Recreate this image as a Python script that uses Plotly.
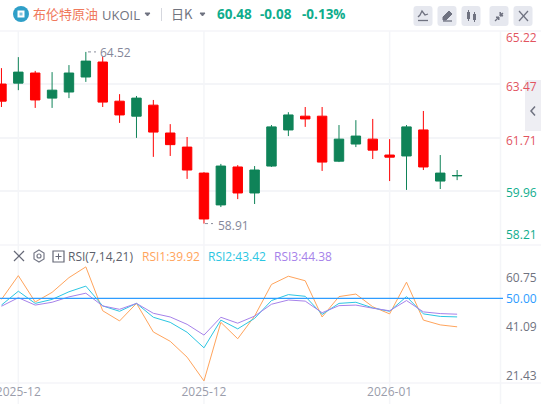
import plotly.graph_objects as go

W, H = 541, 404

sessions = ["2025-11-28", "2025-12-01", "2025-12-02", "2025-12-03", "2025-12-04", "2025-12-05", "2025-12-08",
            "2025-12-09", "2025-12-10", "2025-12-11", "2025-12-12", "2025-12-15", "2025-12-16", "2025-12-17",
            "2025-12-18", "2025-12-19", "2025-12-22", "2025-12-23", "2025-12-24", "2025-12-26", "2025-12-29",
            "2025-12-30", "2025-12-31", "2026-01-02", "2026-01-05", "2026-01-06", "2026-01-07", "2026-01-08"]
opens = [63.47, 63.50, 63.83, 63.01, 63.21, 63.70, 64.19, 62.91, 62.42, 62.78, 61.87, 61.41, 60.56, 59.52,
         60.76, 59.91, 60.79, 61.97, 62.42, 62.42, 60.95, 61.51, 61.67, 61.15, 61.12, 61.97, 60.30, 60.47]
highs = [63.99, 64.35, 63.90, 63.86, 64.09, 64.52, 64.38, 63.14, 63.08, 62.95, 62.16, 61.74, 60.59, 60.86,
         60.82, 60.79, 62.13, 62.55, 62.72, 62.72, 62.13, 62.29, 62.33, 61.67, 62.13, 62.59, 61.15, 60.66]
lows = [62.72, 63.27, 62.69, 62.69, 63.01, 63.54, 62.72, 62.20, 61.71, 61.09, 61.12, 60.37, 58.91, 59.45,
        59.71, 59.55, 60.76, 61.77, 62.07, 60.63, 60.92, 61.41, 61.02, 60.30, 60.01, 60.66, 60.04, 60.33]
closes = [62.91, 63.86, 62.95, 63.27, 63.83, 64.22, 62.88, 62.46, 63.01, 61.90, 61.49, 60.66, 59.06, 60.79,
          59.91, 60.66, 62.07, 62.46, 62.33, 60.92, 61.67, 61.77, 61.31, 61.08, 62.07, 60.76, 60.56, 60.48]
rsi1 = [49.6, 58.0, 48.7, 52.1, 57.3, 61.1, 45.6, 42.0, 48.2, 38.1, 34.8, 29.2, 20.8, 41.5,
        35.7, 43.7, 54.9, 57.8, 56.2, 43.4, 50.6, 51.5, 47.0, 44.5, 55.7, 42.3, 40.6, 39.92]
rsi2 = [47.6, 52.5, 48.2, 49.6, 52.3, 54.3, 47.3, 45.4, 48.2, 43.3, 41.5, 38.0, 32.5, 42.3,
        39.2, 42.9, 49.2, 51.3, 50.7, 44.3, 48.2, 48.6, 46.6, 45.4, 50.6, 44.5, 43.6, 43.42]
rsi3 = [47.2, 50.2, 47.6, 48.6, 50.5, 51.8, 47.3, 46.1, 48.2, 44.7, 43.4, 40.8, 37.0, 43.3,
        41.2, 43.7, 47.9, 49.4, 49.0, 44.9, 47.4, 47.6, 46.5, 45.6, 49.2, 45.2, 44.6, 44.38]
price_ticks = [65.22, 63.47, 61.71, 59.96, 58.21]
rsi_ticks = [60.75, 50.00, 41.09, 21.43]
month_tick_sessions = ["2025-12-01", "2025-12-16", "2026-01-02"]
month_tick_labels = ["2025-12", "2025-12", "2026-01"]

FONT = "Open Sans, Noto Sans CJK SC, sans-serif"
CJK = "Noto Sans CJK SC, sans-serif"
GREEN, RED = "#0f8358", "#ff0000"
GRID = "#f4f5f8"
ORANGE, CYAN, PURPLE, BLUE = "#ffa45c", "#2cc6e2", "#a682ea", "#2e9cff"
UP_TXT, DOWN_TXT = "#10ad8d", "#e2545f"
GREY = "#9a9dab"


def px(x):
    return x / W


def py(y):
    return 1 - y / H


fig = go.Figure()
fig.add_trace(go.Candlestick(
    x=sessions, open=opens, high=highs, low=lows, close=closes, xaxis="x", yaxis="y",
    increasing=dict(line=dict(color=GREEN, width=1), fillcolor=GREEN),
    decreasing=dict(line=dict(color=RED, width=1), fillcolor=RED),
    whiskerwidth=0, showlegend=False, hoverinfo="skip"))
for vals, col in ((rsi1, ORANGE), (rsi2, CYAN), (rsi3, PURPLE)):
    fig.add_trace(go.Scatter(x=sessions, y=vals, mode="lines", xaxis="x", yaxis="y2",
                             line=dict(color=col, width=1), showlegend=False, hoverinfo="skip"))

shapes = []


def line(x0, y0, x1, y1, color="#6f7280", width=1.5):
    shapes.append(dict(type="line", xref="paper", yref="paper", x0=px(x0), y0=py(y0), x1=px(x1), y1=py(y1),
                       line=dict(color=color, width=width)))


def rect(x0, y0, x1, y1, fill, color=None, width=0):
    shapes.append(dict(type="rect", xref="paper", yref="paper", x0=px(x0), y0=py(y0), x1=px(x1), y1=py(y1),
                       fillcolor=fill, line=dict(color=color or fill, width=width)))


def path(points, fill=None, color="#6f7280", width=1.5, close=True):
    d = "M " + " L ".join(f"{px(a):.5f},{py(b):.5f}" for a, b in points) + (" Z" if close else "")
    shapes.append(dict(type="path", xref="paper", yref="paper", path=d,
                       fillcolor=fill or "rgba(0,0,0,0)", line=dict(color=color, width=width)))


# pane frame
line(0, 31, 541, 31, GRID, 1.5)
line(0, 245, 541, 245, GRID, 1.5)
line(0, 383, 541, 383, GRID, 1.5)
line(500.5, 31, 500.5, 404, GRID, 1.5)

# header icon
shapes.append(dict(type="circle", xref="paper", yref="paper", x0=px(13), y0=py(6), x1=px(29), y1=py(22),
                   fillcolor="#2f9fc8", line=dict(width=0)))
rect(17.5, 10.5, 24.5, 17.5, "#ffffff")
rect(19.5, 12.5, 22.5, 15.5, "#7fc4de")
path([(145, 13), (150, 13), (147.5, 16)], "#6f7280", "#6f7280", 1)
path([(200, 13), (205, 13), (202.5, 16)], "#6f7280", "#6f7280", 1)
line(161.5, 8, 161.5, 21, "#d5d7de", 1)

# toolbar buttons
for left in (413.5, 437.5, 461.5, 489.5, 513.5):
    r = 3
    a, b, t, u = left, left + 19, 6, 26
    d = (f"M {px(a + r)},{py(t)} L {px(b - r)},{py(t)} Q {px(b)},{py(t)} {px(b)},{py(t + r)} "
         f"L {px(b)},{py(u - r)} Q {px(b)},{py(u)} {px(b - r)},{py(u)} L {px(a + r)},{py(u)} "
         f"Q {px(a)},{py(u)} {px(a)},{py(u - r)} L {px(a)},{py(t + r)} Q {px(a)},{py(t)} {px(a + r)},{py(t)} Z")
    shapes.append(dict(type="path", xref="paper", yref="paper", path=d, fillcolor="#e6e8ef", line=dict(width=0)))
path([(418, 17), (420, 15), (422, 11), (425, 15), (428, 14)], None, "#6f7280", 1.3, False)
line(418, 20.5, 428, 20.5, "#6f7280", 1.3)
path([(443, 17), (449, 11), (452, 14), (446, 20), (443, 20)], "#6f7280", "#6f7280", 1)
line(443, 21, 452, 21, "#6f7280", 1.3)
rect(467, 12, 470, 19, "#6f7280")
line(468.5, 10, 468.5, 21, "#6f7280", 1)
rect(473, 14, 476, 20, "#6f7280")
line(474.5, 12, 474.5, 22, "#6f7280", 1)
line(495, 21, 498, 18, "#6f7280", 1.3)
line(500, 16, 503, 13, "#6f7280", 1.3)
path([(496, 17), (499, 17), (499, 20)], "#6f7280", "#6f7280", 1)
path([(503, 16), (500, 16), (500, 12)], "#6f7280", "#6f7280", 1)
line(519, 11, 528, 21, "#6f7280", 1.2)
line(528, 11, 519, 21, "#6f7280", 1.2)

# side handle
rect(525, 80, 541, 131, "#eeeef3")
path([(535, 106.5), (531, 111), (535, 115.5)], None, "#6f7280", 1.5, False)

# RSI legend icons
line(14, 251, 24, 261, "#666977", 1.2)
line(24, 251, 14, 261, "#666977", 1.2)
path([(39, 250), (44, 253), (44, 259), (39, 262), (34, 259), (34, 253)], None, "#777a88", 1.2)
shapes.append(dict(type="circle", xref="paper", yref="paper", x0=px(37), y0=py(254), x1=px(41), y1=py(258),
                   line=dict(color="#777a88", width=1.2)))
rect(53, 251, 64, 262, "rgba(0,0,0,0)", "#666977", 1.2)
line(55.5, 256.5, 61.5, 256.5, "#666977", 1)
line(58.5, 253.5, 58.5, 259.5, "#666977", 1)

# high/low leaders
shapes.append(dict(type="line", xref="paper", yref="y", x0=px(88), x1=px(96), y0=highs[5], y1=highs[5],
                   line=dict(color="#8a8d9b", width=1, dash="dot")))
shapes.append(dict(type="line", xref="paper", yref="y", x0=px(205), x1=px(213), y0=lows[12], y1=lows[12],
                   line=dict(color="#8a8d9b", width=1, dash="dot")))
# RSI reference line
shapes.append(dict(type="line", xref="paper", yref="y2", x0=0, x1=px(503), y0=50, y1=50,
                   line=dict(color=BLUE, width=1.2)))

ann = []


def text(x, y, s, color, size=12, anchor="left", family=FONT, bold=False):
    ann.append(dict(xref="paper", yref="paper", x=px(x), y=py(y), text=f"<b>{s}</b>" if bold else s, showarrow=False,
                    xanchor=anchor, yanchor="middle", font=dict(color=color, size=size, family=family),
                    borderpad=0, borderwidth=0))


text(33, 13.5, "布伦特原油", "#f0795c", 13, family=CJK)
text(102, 15, "UKOIL", "#71747f", 13)
text(171, 13.5, "日K", "#71747f", 13, family=CJK)
text(217, 13.5, "60.48", UP_TXT, 13.5, bold=True)
text(260, 13.5, "-0.08", UP_TXT, 13.5, bold=True)
text(302, 13.5, "-0.13%", UP_TXT, 13.5, bold=True)
text(68, 256.5, "RSI(7,14,21)", "#5c5f6b", 12)
text(142, 256.5, f"RSI1:{rsi1[-1]:.2f}", ORANGE, 12)
text(208, 256.5, f"RSI2:{rsi2[-1]:.2f}", CYAN, 12)
text(274, 256.5, f"RSI3:{rsi3[-1]:.2f}", PURPLE, 12)

# price labels (the feed's labels sit a few pixels off their gridlines)
price_shift = [-7.5, -2, -2.5, -1.5, 10]
for v, sh in zip(price_ticks, price_shift):
    ann.append(dict(xref="paper", yref="y", x=px(504), y=v, yshift=sh, text=f"{v:.2f}", showarrow=False,
                    xanchor="left", yanchor="middle",
                    font=dict(color=DOWN_TXT if v > 60.48 else UP_TXT, size=12, family=FONT)))
rsi_shift = [-10, 0, -3, 4]
for v, sh in zip(rsi_ticks, rsi_shift):
    ann.append(dict(xref="paper", yref="y2", x=px(504), y=v, yshift=sh, text=f"{v:.2f}", showarrow=False,
                    xanchor="left", yanchor="middle",
                    font=dict(color=BLUE if v == 50 else "#70737f", size=12, family=FONT)))
ann.append(dict(xref="paper", yref="y", x=px(98), y=highs[5], yshift=-1, text=f"{highs[5]:.2f}", showarrow=False,
                xanchor="left", yanchor="middle", font=dict(color="#84879a", size=12, family=FONT)))
ann.append(dict(xref="paper", yref="y", x=px(216), y=lows[12], yshift=-2, text=f"{lows[12]:.2f}", showarrow=False,
                xanchor="left", yanchor="middle", font=dict(color="#84879a", size=12, family=FONT)))

fig.update_layout(
    width=W, height=H, margin=dict(l=0, r=0, t=0, b=0, pad=0), autosize=False,
    paper_bgcolor="#ffffff", plot_bgcolor="#ffffff", showlegend=False, boxgap=0.2, boxmode="overlay",
    shapes=shapes, annotations=ann,
    xaxis=dict(domain=[0, px(500.5)], type="category", range=[-0.086, 29.57], anchor="y2",
               tickmode="array", tickvals=month_tick_sessions, ticktext=month_tick_labels,
               ticks="", tickfont=dict(color=GREY, size=12, family=FONT), showline=False,
               showgrid=False, zeroline=False, rangeslider=dict(visible=False), automargin=False),
    yaxis=dict(domain=[py(245), py(30.5)], range=[58.21, 65.22], side="right", tickmode="array",
               tickvals=price_ticks[1:4], showticklabels=False, ticks="", showgrid=True, gridcolor=GRID,
               gridwidth=1.5, zeroline=False, showline=False, anchor="x", automargin=False),
    yaxis2=dict(domain=[py(383), py(245)], range=[20.07, 68.83], side="right", showticklabels=False, ticks="",
                showgrid=False, zeroline=False, showline=False, anchor="x", automargin=False),
)
# month gridlines through both panes, positioned on the session axis
for s in month_tick_sessions:
    fig.add_shape(type="line", xref="x", yref="paper", x0=s, x1=s, y0=0, y1=py(31),
                  line=dict(color=GRID, width=1.5), layer="below")

fig.write_html("out.html", config=dict(displayModeBar=False, responsive=False),
               post_script="document.body.style.margin='0';document.documentElement.style.overflow='hidden';")
